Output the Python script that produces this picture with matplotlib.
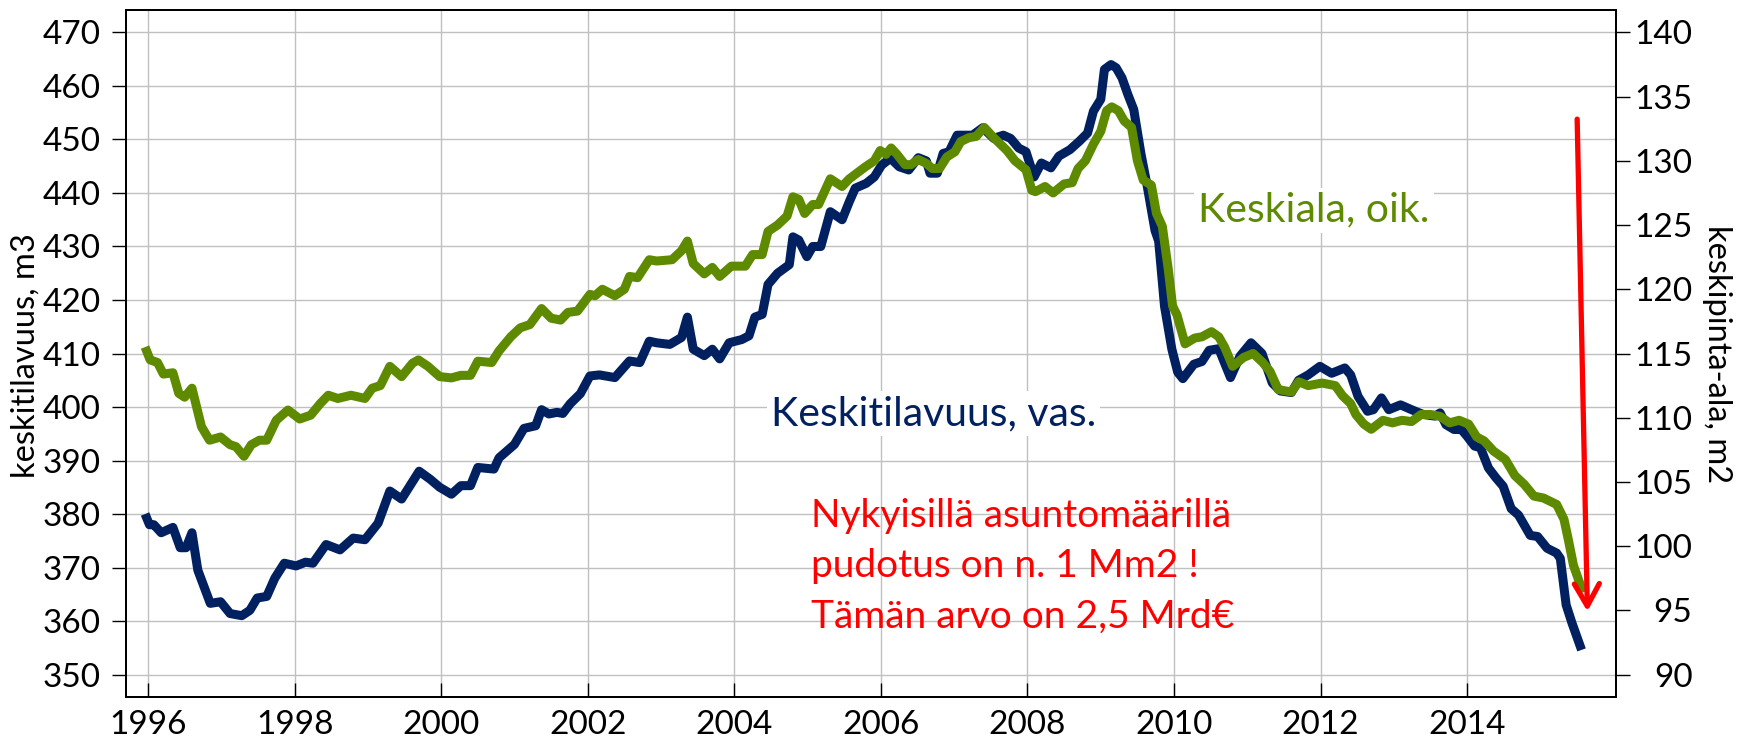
import matplotlib.pyplot as plt

plt.rcParams['font.family'] = ['Lato', 'DejaVu Sans']

# axis ticks
year_ticks = list(range(1996, 2015, 2))
vol_ticks = list(range(350, 471, 10))
area_ticks = list(range(90, 141, 5))

# keskitilavuus (m3), left axis
vol_x = [1995.96, 1996.02, 1996.08, 1996.18, 1996.34, 1996.44, 1996.52, 1996.60, 1996.68, 1996.85,
         1996.99, 1997.12, 1997.28, 1997.39, 1997.49, 1997.62, 1997.73, 1997.86, 1998.02, 1998.15,
         1998.25, 1998.43, 1998.62, 1998.80, 1998.96, 1999.14, 1999.30, 1999.46, 1999.70, 1999.85,
         1999.98, 2000.14, 2000.27, 2000.40, 2000.50, 2000.72, 2000.79, 2001.00, 2001.13, 2001.29,
         2001.37, 2001.47, 2001.58, 2001.66, 2001.76, 2001.90, 2002.03, 2002.16, 2002.37, 2002.57,
         2002.71, 2002.84, 2002.94, 2003.12, 2003.28, 2003.36, 2003.44, 2003.59, 2003.70, 2003.80,
         2003.93, 2004.10, 2004.20, 2004.28, 2004.38, 2004.46, 2004.59, 2004.75, 2004.80, 2004.88,
         2004.99, 2005.07, 2005.18, 2005.31, 2005.47, 2005.57, 2005.65, 2005.80, 2005.91, 2006.01,
         2006.13, 2006.25, 2006.38, 2006.51, 2006.62, 2006.67, 2006.77, 2006.85, 2006.93, 2007.04,
         2007.14, 2007.25, 2007.39, 2007.54, 2007.67, 2007.77, 2007.88, 2007.98, 2008.09, 2008.19,
         2008.32, 2008.43, 2008.58, 2008.71, 2008.82, 2008.90, 2009.00, 2009.05, 2009.14, 2009.21,
         2009.29, 2009.37, 2009.45, 2009.55, 2009.63, 2009.74, 2009.79, 2009.87, 2009.97, 2010.05,
         2010.12, 2010.27, 2010.38, 2010.48, 2010.61, 2010.77, 2010.90, 2011.05, 2011.20, 2011.34,
         2011.45, 2011.60, 2011.70, 2011.83, 2011.99, 2012.15, 2012.33, 2012.41, 2012.51, 2012.64,
         2012.72, 2012.83, 2012.93, 2013.09, 2013.24, 2013.40, 2013.56, 2013.63, 2013.71, 2013.82,
         2013.92, 2014.00, 2014.10, 2014.18, 2014.29, 2014.39, 2014.49, 2014.60, 2014.70, 2014.86,
         2014.96, 2015.09, 2015.22, 2015.27, 2015.35, 2015.43, 2015.56]
vol_y = [380.0, 378.0, 378.0, 376.5, 377.5, 373.7, 373.7, 376.5, 369.5, 363.3,
         363.6, 361.4, 361.0, 362.0, 364.3, 364.6, 368.0, 370.8, 370.3, 371.0,
         370.8, 374.3, 373.3, 375.5, 375.2, 378.3, 384.3, 382.8, 388.0, 386.5,
         385.0, 383.7, 385.3, 385.3, 388.7, 388.4, 390.5, 393.0, 396.0, 396.5,
         399.5, 398.7, 399.0, 398.8, 400.6, 402.5, 405.8, 406.0, 405.5, 408.6,
         408.3, 412.3, 412.0, 411.7, 413.0, 416.8, 410.8, 409.6, 410.8, 409.0,
         412.0, 412.6, 413.3, 416.8, 417.3, 422.9, 425.0, 426.6, 431.8, 431.2,
         428.1, 430.0, 430.0, 436.5, 435.0, 438.4, 440.9, 441.8, 443.0, 445.2,
         446.5, 444.9, 444.3, 446.6, 446.0, 443.7, 443.7, 447.4, 447.7, 450.8,
         450.8, 450.8, 452.2, 450.2, 450.8, 450.2, 448.4, 447.7, 443.0, 445.6,
         444.7, 446.9, 448.1, 449.7, 451.2, 455.3, 457.5, 463.1, 464.0, 463.4,
         461.5, 458.4, 455.6, 447.2, 441.6, 433.0, 431.0, 418.8, 410.8, 406.5,
         405.3, 408.0, 408.5, 410.6, 410.9, 405.5, 409.5, 412.0, 410.0, 404.5,
         403.0, 402.7, 405.0, 406.0, 407.6, 406.3, 407.3, 406.0, 402.0, 399.2,
         399.5, 401.7, 399.5, 400.4, 399.5, 398.6, 398.3, 398.9, 396.7, 395.8,
         395.8, 394.5, 392.7, 392.4, 388.6, 386.8, 385.2, 381.0, 379.8, 376.0,
         375.8, 373.6, 372.7, 371.7, 363.0, 359.6, 354.6]

# keskipinta-ala (m2), right axis
area_x = [1995.96, 1996.03, 1996.13, 1996.21, 1996.34, 1996.42, 1996.50, 1996.60, 1996.73, 1996.84,
          1996.99, 1997.12, 1997.20, 1997.31, 1997.41, 1997.52, 1997.62, 1997.75, 1997.91, 1998.07,
          1998.22, 1998.35, 1998.46, 1998.59, 1998.77, 1998.96, 1999.06, 1999.17, 1999.30, 1999.46,
          1999.61, 1999.69, 1999.82, 1999.98, 2000.14, 2000.27, 2000.40, 2000.50, 2000.69, 2000.79,
          2000.95, 2001.08, 2001.21, 2001.37, 2001.50, 2001.63, 2001.73, 2001.86, 2002.03, 2002.10,
          2002.20, 2002.37, 2002.50, 2002.57, 2002.68, 2002.84, 2002.94, 2003.15, 2003.28, 2003.36,
          2003.44, 2003.59, 2003.70, 2003.80, 2003.96, 2004.15, 2004.25, 2004.38, 2004.46, 2004.59,
          2004.72, 2004.80, 2004.88, 2004.96, 2005.07, 2005.15, 2005.31, 2005.47, 2005.57, 2005.78,
          2005.91, 2005.99, 2006.07, 2006.14, 2006.22, 2006.33, 2006.41, 2006.51, 2006.62, 2006.70,
          2006.80, 2006.90, 2007.01, 2007.09, 2007.20, 2007.30, 2007.41, 2007.54, 2007.72, 2007.83,
          2007.98, 2008.06, 2008.11, 2008.24, 2008.35, 2008.50, 2008.61, 2008.69, 2008.79, 2008.90,
          2009.00, 2009.08, 2009.15, 2009.24, 2009.32, 2009.42, 2009.50, 2009.58, 2009.69, 2009.76,
          2009.84, 2009.92, 2009.98, 2010.04, 2010.15, 2010.28, 2010.38, 2010.51, 2010.61, 2010.69,
          2010.80, 2010.95, 2011.08, 2011.21, 2011.31, 2011.42, 2011.60, 2011.70, 2011.83, 2012.02,
          2012.20, 2012.30, 2012.41, 2012.48, 2012.59, 2012.69, 2012.85, 2012.98, 2013.11, 2013.24,
          2013.37, 2013.50, 2013.63, 2013.76, 2013.89, 2014.02, 2014.13, 2014.23, 2014.36, 2014.52,
          2014.65, 2014.78, 2014.91, 2015.04, 2015.22, 2015.32, 2015.38, 2015.45, 2015.58]
area_y = [115.5, 114.5, 114.3, 113.4, 113.5, 111.9, 111.6, 112.3, 109.3, 108.25,
          108.5, 107.9, 107.75, 107.0, 107.9, 108.25, 108.25, 109.8, 110.6, 109.9,
          110.2, 111.1, 111.75, 111.5, 111.75, 111.5, 112.3, 112.5, 114.0, 113.2,
          114.25, 114.5, 114.0, 113.2, 113.1, 113.3, 113.3, 114.4, 114.3, 115.2,
          116.3, 117.0, 117.25, 118.5, 117.75, 117.6, 118.2, 118.3, 119.6, 119.5,
          120.0, 119.5, 120.0, 121.0, 120.9, 122.3, 122.2, 122.3, 123.0, 123.75,
          122.0, 121.2, 121.7, 121.0, 121.8, 121.8, 122.7, 122.7, 124.5, 125.0,
          125.7, 127.2, 127.0, 125.9, 126.6, 126.6, 128.6, 128.0, 128.6, 129.5,
          130.0, 130.8, 130.5, 131.0, 130.5, 129.7, 129.7, 130.1, 129.8, 129.4,
          129.4, 130.3, 130.7, 131.5, 131.8, 131.9, 132.6, 131.8, 130.8, 130.0,
          129.3, 127.7, 127.6, 128.0, 127.5, 128.2, 128.3, 129.4, 130.0, 131.3,
          132.3, 133.9, 134.2, 133.9, 133.1, 132.6, 130.0, 128.5, 128.1, 125.9,
          124.9, 121.6, 118.7, 118.0, 115.75, 116.2, 116.3, 116.7, 116.3, 115.5,
          114.0, 114.7, 115.0, 114.3, 113.6, 112.2, 112.0, 112.8, 112.5, 112.7,
          112.5, 111.7, 111.1, 110.25, 109.5, 109.1, 109.8, 109.6, 109.8, 109.7,
          110.25, 110.25, 110.1, 109.6, 109.8, 109.5, 108.5, 108.2, 107.4, 106.75,
          105.5, 104.8, 103.9, 103.75, 103.25, 102.1, 100.5, 98.5, 96.4]

navy = '#002060'
olive = '#5e8a00'

fig = plt.figure(figsize=(17.45, 7.43), dpi=100)
ax = fig.add_axes([126 / 1745, 46 / 743, 1490 / 1745, 687 / 743])
ax2 = ax.twinx()

ax.plot(vol_x, vol_y, color=navy, lw=6.5, solid_joinstyle='round', solid_capstyle='butt')
ax2.plot(area_x, area_y, color=olive, lw=6.5, solid_joinstyle='round', solid_capstyle='butt')

ax.set_xlim(1995.70, 2016.03)
ax.set_ylim(345.8, 474.2)
ax2.set_ylim(88.26, 141.74)

ax.set_xticks(year_ticks)
ax.set_yticks(vol_ticks)
ax2.set_yticks(area_ticks)

ax.set_axisbelow(True)
ax.grid(True, color='#c0c0c0', lw=1.0)

ax.tick_params(axis='x', direction='in', length=10, width=1, labelsize=24, pad=9)
ax.tick_params(axis='y', direction='out', length=10, width=1, labelsize=24, pad=8)
ax2.tick_params(axis='y', direction='out', length=10, width=1, labelsize=24, pad=45)
for lab in ax2.get_yticklabels():
    lab.set_horizontalalignment('right')

for a in (ax, ax2):
    for s in a.spines.values():
        s.set_linewidth(1.4)
        s.set_color('black')

fig.text(26 / 1745, 1 - 356 / 743, 'keskitilavuus, m3', rotation=90, ha='center', va='center', fontsize=23.5)
fig.text(1717 / 1745, 1 - 354 / 743, 'keskipinta-ala, m2', rotation=270, ha='center', va='center', fontsize=23.5)

box = dict(fc='white', ec='none', pad=3)
ax.text(2004.50, 396.6, 'Keskitilavuus, vas.', color=navy, fontsize=29.5, va='baseline', bbox=box, zorder=1)
ax.text(2010.33, 434.6, 'Keskiala, oik.', color=olive, fontsize=29.5, va='baseline', bbox=box, zorder=1)

red_lines = ['Nykyisillä asuntomäärillä', 'pudotus on n. 1 Mm2 !', 'Tämän arvo on 2,5 Mrd€']
red_base = [377.6, 368.3, 358.7]
for txt, yb in zip(red_lines, red_base):
    ax.text(2005.05, yb, txt, color='red', fontsize=28, va='baseline')

ax2.annotate('', xy=(2015.64, 361.8), xycoords=ax.transData,
             xytext=(2015.50, 453.8), textcoords=ax.transData,
             arrowprops=dict(arrowstyle='->,head_length=0.8,head_width=0.45', color='red',
                             lw=3.8, mutation_scale=20, shrinkA=0, shrinkB=0))

fig.savefig('out.png', dpi=100)
